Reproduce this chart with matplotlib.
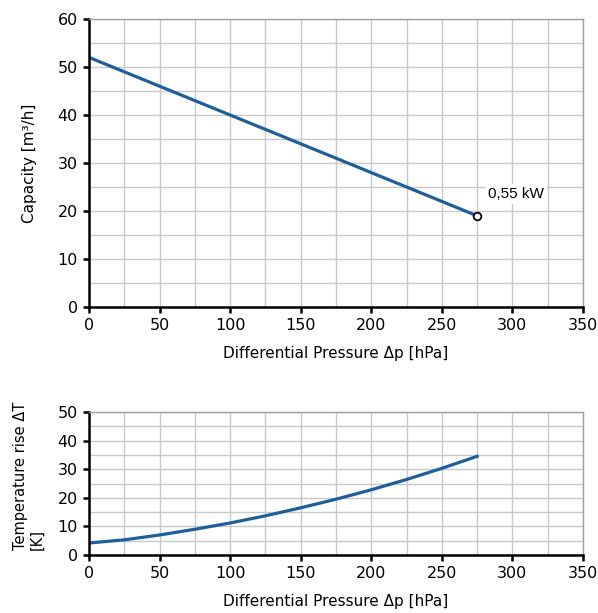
import numpy as np
import matplotlib.pyplot as plt
from matplotlib.ticker import MultipleLocator

# capacity curve (top)
dp_cap = [0, 275]
capacity = [52, 19]
power_label = "0,55 kW"

# temperature rise curve (bottom)
dp_temp = [0, 25, 50, 75, 100, 125, 150, 175, 200, 225, 250, 275]
temp_rise = [4.2, 5.3, 7.0, 9.0, 11.2, 13.7, 16.5, 19.5, 22.8, 26.4, 30.3, 34.5]

xlabel = "Differential Pressure \u0394p [hPa]"
line_col = "#1f5f99"
grid_col = "#c8c8c8"

plt.rcParams['font.family'] = ['DejaVu Sans']

fig = plt.figure(figsize=(5.98, 6.13), dpi=100)
ax1 = fig.add_axes([0.1488, 0.4992, 0.826, 0.4698])
ax2 = fig.add_axes([0.1488, 0.0946, 0.826, 0.2333])


def style(ax, ymax, ystep):
    ax.set_xlim(0, 350)
    ax.set_ylim(0, ymax)
    ax.xaxis.set_major_locator(MultipleLocator(50))
    ax.xaxis.set_minor_locator(MultipleLocator(25))
    ax.yaxis.set_major_locator(MultipleLocator(ystep))
    ax.yaxis.set_minor_locator(MultipleLocator(ystep / 2))
    ax.grid(True, which='both', color=grid_col, lw=1)
    ax.set_axisbelow(True)
    for s in ['left', 'bottom']:
        ax.spines[s].set_color('black')
        ax.spines[s].set_linewidth(1.8)
    for s in ['top', 'right']:
        ax.spines[s].set_color('#a0a0a0')
        ax.spines[s].set_linewidth(1)
    ax.tick_params(which='major', direction='out', length=4, width=1.8,
                   labelsize=11.5, colors='black', pad=4)
    ax.tick_params(which='minor', length=0)
    ax.set_xlabel(xlabel, fontsize=11, labelpad=9)


style(ax1, 60, 10)
ax1.plot(dp_cap, capacity, color=line_col, lw=2.3, solid_capstyle='butt')
ax1.plot(dp_cap[-1], capacity[-1], 'o', ms=5.5, mfc='white', mec='black', mew=1.3)
ax1.text(dp_cap[-1] + 8, capacity[-1] + 4.5, power_label, family='Liberation Sans',
         fontsize=11, va='center', ha='left',
         bbox=dict(facecolor='white', edgecolor='none', pad=2))
ax1.set_ylabel("Capacity [m\u00b3/h]", fontsize=11)
ax1.yaxis.set_label_coords(-0.105, 0.5)

style(ax2, 50, 10)
ax2.plot(dp_temp, temp_rise, color=line_col, lw=2.3)
ax2.set_ylabel("Temperature rise \u0394T\n[K]", fontsize=10.5, multialignment='left',
               linespacing=1.1)
ax2.yaxis.set_label_coords(-0.09, 0.55)

fig.savefig("out.png", dpi=100)
